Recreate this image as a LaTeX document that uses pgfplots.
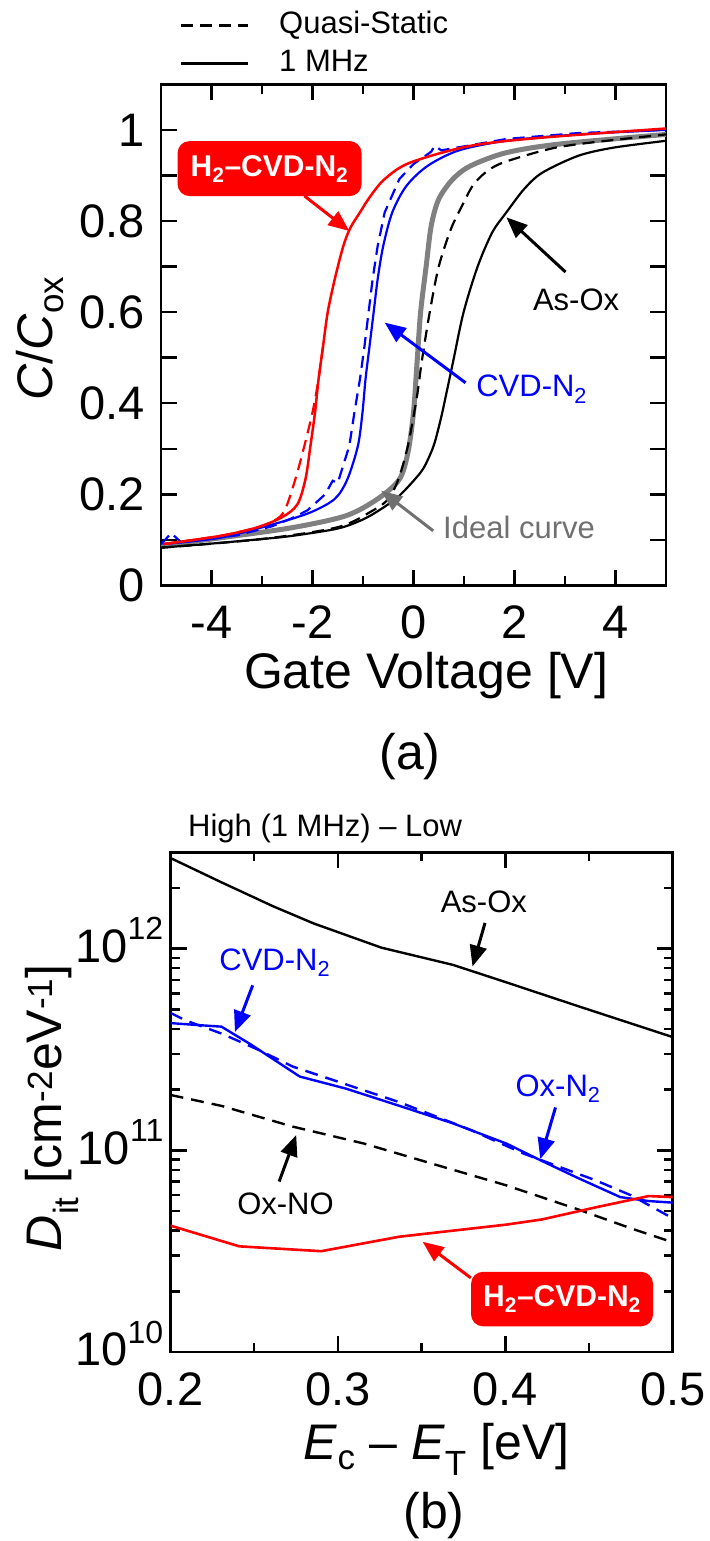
\documentclass[border=0pt]{standalone}
\usepackage{fontspec}
\setmainfont{Liberation Sans}
\usepackage{pgfplots}
\pgfplotsset{compat=1.18}
\usetikzlibrary{arrows.meta}
\definecolor{idealgray}{RGB}{128,128,128}
\definecolor{idealtext}{RGB}{112,112,112}
\newcommand{\tickfont}{\fontsize{47}{50}\selectfont}
\newcommand{\labfont}{\fontsize{50}{54}\selectfont}
\newcommand{\annfont}{\fontsize{31}{34}\selectfont}
\newcommand{\boxfont}{\fontsize{30}{33}\selectfont\bfseries}
\newcommand{\lt}[1]{10\raisebox{0.48em}{\fontsize{32}{32}\selectfont #1}}
\tikzset{arr/.style={line width=3pt, -{Triangle[length=21pt,width=17pt]}}}
\pgfplotsset{
  myaxis/.style={
    scale only axis,
    /pgf/number format/assume math mode=true,
    tick align=inside,
    axis line style={line width=2.7pt},
    every tick/.style={black, line width=2.5pt},
    major tick length=16pt,
    minor tick length=10pt,
    xticklabel style={font=\tickfont, inner sep=0pt, yshift=-20pt},
    clip=true,
  },
}
\begin{document}
\begin{tikzpicture}
\useasboundingbox (0pt,0pt) rectangle (709pt,-1541pt);
% ---------------- (a) ----------------
\begin{axis}[myaxis,
  at={(161pt,-585.5pt)}, anchor=south west,
  width=505pt, height=501.2pt,
  xmin=-5, xmax=5, ymin=0, ymax=1.1,
  xtick={-4,-2,0,2,4}, minor xtick={-3,-1,1,3},
  ytick={0,0.1,0.2,0.3,0.4,0.5,0.6,0.7,0.8,0.9,1},
  yticklabels={0,,0.2,,0.4,,0.6,,0.8,,1},
  yticklabel style={font=\tickfont, inner sep=0pt, xshift=-16pt},
  xlabel={Gate Voltage [V]},
  xlabel style={font=\labfont, at={(axis description cs:0.525,0)}, anchor=base, yshift=-103.3pt},
  ylabel={\textit{C}/\textit{C}\textsubscript{ox}},
  ylabel style={font=\labfont, at={(axis description cs:-0.2139,0.493)}, anchor=base},
  legend style={at={(axis description cs:0.0376,1.1423)}, anchor=north west, draw=none, fill=none,
    inner sep=0pt, outer sep=0pt, font=\annfont, row sep=13pt,
    nodes={inner sep=0pt, text height=21pt, text depth=4pt},
    /tikz/every odd column/.append style={column sep=30pt}},
  legend cell align=left,
  legend image code/.code={\draw[#1, line width=2.2pt] (0pt,0pt) -- (67pt,0pt);},
]
\addlegendimage{black, dash pattern=on 12pt off 7pt}
\addlegendentry{Quasi-Static}
\addlegendimage{black}
\addlegendentry{1 MHz}
% ideal
\addplot[idealgray, line width=5pt, smooth, forget plot] coordinates {
(-5,0.087) (-3.8,0.105) (-2.4,0.127) (-1.34,0.153) (-0.71,0.19) (-0.28,0.233) (-0.11,0.292)
(0,0.38) (0.07,0.489) (0.14,0.599) (0.25,0.70) (0.35,0.789) (0.50,0.848) (0.78,0.892)
(1.13,0.921) (1.84,0.95) (2.9,0.969) (5,0.99)};
% As-Ox 1 MHz
\addplot[black, line width=2.2pt, smooth, forget plot] coordinates {
(-5,0.083) (-4,0.092) (-3,0.102) (-2.4,0.109) (-1.5,0.125) (-1,0.145) (-0.64,0.168) (-0.28,0.197)
(0.14,0.248) (0.3,0.28) (0.42,0.314) (0.55,0.37) (0.64,0.416) (0.78,0.489) (0.99,0.599)
(1.27,0.70) (1.56,0.775) (1.84,0.819) (2.19,0.87) (2.55,0.906) (3.26,0.943) (3.96,0.961) (5,0.976)};
% As-Ox QS
\addplot[black, line width=2.2pt, dash pattern=on 12pt off 7pt, smooth, forget plot] coordinates {
(-5,0.083) (-3,0.102) (-1.5,0.128) (-0.8,0.165) (-0.5,0.19) (-0.30,0.233) (-0.11,0.307)
(0.07,0.416) (0.16,0.489) (0.32,0.599) (0.50,0.70) (0.74,0.782) (0.96,0.833) (1.17,0.877)
(1.42,0.906) (1.77,0.928) (2.69,0.958) (3.5,0.972) (5,0.99)};
% CVD-N2 QS
\addplot[blue, line width=2.2pt, dash pattern=on 12pt off 7pt, forget plot] coordinates {
(-5,0.09) (-4.8,0.115) (-4.6,0.095) (-3.5,0.11) (-2.8,0.13) (-2.4,0.148) (-2.1,0.165)
(-1.75,0.2) (-1.6,0.23) (-1.5,0.225) (-1.27,0.307) (-1.17,0.38) (-1.06,0.453) (-0.97,0.526)
(-0.89,0.599) (-0.81,0.672) (-0.71,0.745) (-0.57,0.819) (-0.28,0.892) (0.0,0.925) (0.35,0.952)
(0.42,0.965) (0.55,0.955) (1.84,0.98) (3.26,0.993) (5,1.0)};
% CVD-N2 1 MHz
\addplot[blue, line width=2.2pt, smooth, forget plot] coordinates {
(-4.95,0.091) (-3.82,0.105) (-2.76,0.135) (-2.05,0.16) (-1.56,0.19) (-1.31,0.233) (-1.10,0.307)
(-1.01,0.38) (-0.95,0.453) (-0.87,0.526) (-0.79,0.599) (-0.71,0.672) (-0.60,0.745) (-0.42,0.819)
(-0.14,0.877) (0.28,0.921) (0.9,0.955) (1.84,0.976) (3.26,0.99) (5,1.0)};
% H2-CVD-N2 QS
\addplot[red, line width=2.2pt, dash pattern=on 12pt off 7pt, smooth, forget plot] coordinates {
(-4.95,0.091) (-3.82,0.109) (-3.11,0.127) (-2.75,0.143) (-2.55,0.165) (-2.34,0.233) (-2.16,0.307)
(-2.0,0.38) (-1.88,0.453) (-1.79,0.526)};
% H2-CVD-N2 1 MHz
\addplot[red, line width=2.5pt, smooth, forget plot] coordinates {
(-4.95,0.091) (-3.82,0.109) (-3.11,0.127) (-2.6,0.150) (-2.3,0.178) (-2.14,0.233) (-2.04,0.307)
(-1.95,0.38) (-1.88,0.453) (-1.79,0.526) (-1.70,0.599) (-1.56,0.672) (-1.39,0.745) (-1.25,0.785)
(-1.06,0.819) (-0.85,0.855) (-0.57,0.892) (-0.07,0.928) (1.13,0.965) (2.55,0.983) (5,1.003)};
% annotations
\node[fill=red, text=white, rounded corners=12pt, minimum width=184pt, minimum height=55pt, inner sep=0pt, font=\boxfont]
  at (axis cs:-2.85,0.915) {H\textsubscript{2}–CVD-N\textsubscript{2}};
\draw[arr, red] (axis cs:-2.16,0.855) -- (axis cs:-1.27,0.778);
\node[font=\annfont] at (axis cs:3.22,0.628) {As-Ox};
\draw[arr, black] (axis cs:3.01,0.688) -- (axis cs:1.84,0.808);
\node[font=\annfont, text=blue] at (axis cs:2.34,0.431) {CVD-N\textsubscript{2}};
\draw[arr, blue] (axis cs:1.03,0.445) -- (axis cs:-0.57,0.577);
\node[font=\annfont, text=idealtext] at (axis cs:2.09,0.127) {Ideal curve};
\draw[arr, idealtext] (axis cs:0.39,0.12) -- (axis cs:-0.64,0.208);
\end{axis}
\node[font=\labfont] at (410pt,-757pt) {(a)};
\node[font=\annfont, anchor=base west, inner sep=0pt] at (188pt,-836pt) {High (1 MHz) – Low};
% ---------------- (b) ----------------
\begin{axis}[myaxis,
  at={(170.5pt,-1352pt)}, anchor=south west,
  width=502.2pt, height=499.7pt,
  xmin=0.2, xmax=0.5, ymode=log, ymin=1e10, ymax=3e12,
  xtick={0.2,0.3,0.4,0.5}, xticklabels={0.2,0.3,0.4,0.5},
  minor xtick={0.25,0.35,0.45},
  ytick={1e10,1e11,1e12},
  yticklabels={\lt{10},\lt{11},\lt{12}},
  yticklabel style={font=\tickfont, inner sep=0pt, anchor=base east, xshift=-7pt, yshift=-14pt},
  minor ytick={2e10,3e10,4e10,5e10,6e10,7e10,8e10,9e10,2e11,3e11,4e11,5e11,6e11,7e11,8e11,9e11,2e12},
  minor tick length=9pt,
  xlabel={\textit{E}\textsubscript{c} – \textit{E}\textsubscript{T} [eV]},
  xlabel style={font=\labfont, at={(axis description cs:0.530,0)}, anchor=base, yshift=-107.7pt},
  ylabel={\textit{D}\textsubscript{it} [cm\textsuperscript{-2}eV\textsuperscript{-1}]},
  ylabel style={font=\labfont, at={(axis description cs:-0.2167,0.489)}, anchor=base},
]
\addplot[black, line width=2.4pt] coordinates {
(0.2,2.81e12) (0.2304,2.13e12) (0.2613,1.62e12) (0.2857,1.33e12) (0.326,1.01e12)
(0.3687,8.3e11) (0.4006,6.8e11) (0.4432,5.19e11) (0.5,3.64e11)};
\addplot[black, line width=2.4pt, dash pattern=on 13pt off 8pt] coordinates {
(0.2,1.88e11) (0.2304,1.66e11) (0.273,1.31e11) (0.3155,1.08e11) (0.358,8.5e10)
(0.4006,6.7e10) (0.4432,5.1e10) (0.4751,4.1e10) (0.5,3.5e10)};
\addplot[blue, line width=2.4pt, dash pattern=on 13pt off 8pt] coordinates {
(0.2,4.8e11) (0.2091,4.4e11) (0.2304,3.79e11) (0.2517,3.17e11) (0.273,2.6e11) (0.2943,2.27e11)
(0.3368,1.73e11) (0.3794,1.26e11) (0.4113,9.6e10) (0.4539,7.1e10) (0.4751,5.98e10) (0.5,4.6e10)};
\addplot[blue, line width=2.4pt] coordinates {
(0.2,4.27e11) (0.2155,4.18e11) (0.2304,4.1e11) (0.2474,3.37e11) (0.2772,2.32e11) (0.3049,2.02e11)
(0.3368,1.66e11) (0.3687,1.36e11) (0.4006,1.08e11) (0.4219,8.85e10) (0.4432,7.3e10)
(0.4687,5.86e10) (0.4857,5.6e10) (0.5,5.5e10)};
\addplot[red, line width=2.6pt] coordinates {
(0.2,4.23e10) (0.2411,3.34e10) (0.29,3.16e10) (0.3368,3.73e10) (0.4006,4.28e10)
(0.4219,4.54e10) (0.4539,5.21e10) (0.4857,5.93e10) (0.5,5.86e10)};
\node[font=\annfont] at (axis cs:0.3872,1.7e12) {As-Ox};
\draw[arr, black] (axis cs:0.3879,1.34e12) -- (axis cs:0.3804,8.15e11);
\node[font=\annfont, text=blue] at (axis cs:0.2623,8.5e11) {CVD-N\textsubscript{2}};
\draw[arr, blue] (axis cs:0.2491,6.57e11) -- (axis cs:0.2385,3.86e11);
\node[font=\annfont, text=blue] at (axis cs:0.4315,2.02e11) {Ox-N\textsubscript{2}};
\draw[arr, blue] (axis cs:0.43,1.63e11) -- (axis cs:0.4209,9.04e10);
\node[font=\annfont] at (axis cs:0.2687,5.42e10) {Ox-NO};
\draw[arr, black] (axis cs:0.2649,7.0e10) -- (axis cs:0.2751,1.19e11);
\node[fill=red, text=white, rounded corners=12pt, minimum width=182pt, minimum height=54.5pt, inner sep=0pt, font=\boxfont]
  at (axis cs:0.4339,1.83e10) {H\textsubscript{2}–CVD-N\textsubscript{2}};
\draw[arr, red] (axis cs:0.3794,2.33e10) -- (axis cs:0.3506,3.52e10);
\end{axis}
\node[font=\labfont] at (434pt,-1516pt) {(b)};
\end{tikzpicture}
\end{document}
